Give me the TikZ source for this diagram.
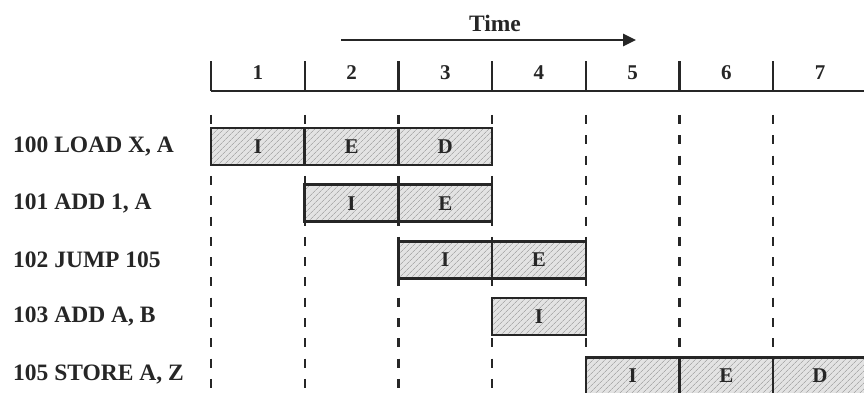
\documentclass[tikz,border=0pt]{standalone}
\usepackage{fontspec}
\setmainfont{Liberation Serif}
\usetikzlibrary{arrows.meta,patterns.meta}
\begin{document}
\begin{tikzpicture}[x=1pt,y=-1pt,
  lbl/.style={font=\fontsize{23.5}{27}\selectfont\bfseries, anchor=west, inner sep=0, text=black!85},
  num/.style={font=\fontsize{21}{25}\selectfont\bfseries, inner sep=0, text=black!85},
  cell/.style={draw=black!85, line width=2.5pt, minimum width=93.7pt, minimum height=37pt, inner sep=0,
    preaction={fill=gray!22}, pattern={Lines[angle=45,distance=4pt,line width=0.7pt]}, pattern color=gray!65,
    font=\fontsize{21}{25}\selectfont\bfseries, text=black!85},
  guide/.style={line width=2.3pt, dash pattern=on 9pt off 11.3pt, black!85},
  axis/.style={line width=2.8pt, black!85}]
\useasboundingbox (0,0) rectangle (864,393);
\clip (0,0) rectangle (864,393);
\fill[white] (0,0) rectangle (864,393);
% time axis
\foreach \i in {1,...,7} \coordinate (k\i) at ({211+93.7*(\i-1)},91);
\coordinate (axend) at (866,91);
\draw[axis] (k1) -- (axend);
\foreach \i in {1,...,7} {
  \draw[axis, line width=2.3pt] (k\i) -- ++(0,-30);
  \node[num] (n\i) at ({211+93.7*(\i-0.5)},73) {\i};
}
\node[lbl, anchor=center] (time) at (495,23) {Time};
\coordinate (as) at (341,40);
\coordinate (ae) at (636,40);
\draw[axis, -{Triangle[length=13pt,width=12pt]}] (as) -- (ae);
% guides
\foreach \i in {1,...,7}
  \draw[guide] ([yshift=-24pt]k\i) -- ([yshift=-310pt]k\i);
% instruction labels
\node[lbl] (l1) at (13,146.5) {100 LOAD X, A};
\node[lbl] (l2) at (13,203.2) {101 ADD 1, A};
\node[lbl] (l3) at (13,259.9) {102 JUMP 105};
\node[lbl] (l4) at (13,316.6) {103 ADD A, B};
\node[lbl] (l5) at (13,375) {105 STORE A, Z};
% cells
\def\cx#1{{211+93.7*(#1-0.5)}}
\node[cell] (r1c1) at (\cx{1},146.5) {I};
\node[cell] (r1c2) at (\cx{2},146.5) {E};
\node[cell] (r1c3) at (\cx{3},146.5) {D};
\node[cell] (r2c2) at (\cx{2},203.2) {I};
\node[cell] (r2c3) at (\cx{3},203.2) {E};
\node[cell] (r3c3) at (\cx{3},259.9) {I};
\node[cell] (r3c4) at (\cx{4},259.9) {E};
\node[cell] (r4c4) at (\cx{4},316.6) {I};
\node[cell] (r5c5) at (\cx{5},376) {I};
\node[cell] (r5c6) at (\cx{6},376) {E};
\node[cell] (r5c7) at (\cx{7},376) {D};
\end{tikzpicture}
\end{document}
